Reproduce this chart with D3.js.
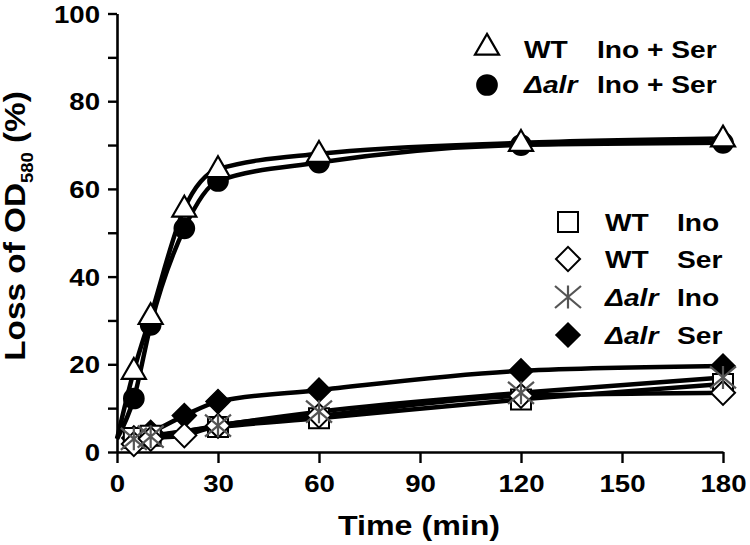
<!DOCTYPE html>
<html><head><meta charset="utf-8">
<script src="https://cdn.jsdelivr.net/npm/d3@7"></script>
<style>
html,body{margin:0;padding:0;background:#fff;}
text{font-family:"Liberation Sans",Arial,Helvetica,sans-serif;font-weight:bold;fill:#000;}
</style></head>
<body>
<svg id="chart" width="750" height="545"></svg>
<script>
// ---- data ----
const timesTop = [0, 5, 10, 20, 30, 60, 120, 180];
const wtInoSer = [3, 18.5, 31, 55.5, 64.5, 68, 70.5, 71.5];
const alrInoSer = [3, 12.2, 29, 51, 61.8, 66, 70, 70.5];

const timesIno = [5, 10, 30, 60, 120, 180];
const wtIno = [3.2, 3.7, 5.7, 7.7, 12, 15.5];
const alrIno = [3, 3.5, 6, 9.2, 13.5, 17];

const timesSer = [5, 10, 20, 30, 60, 120, 180];
const wtSer = [1.8, 3, 3.8, 6, 8.3, 12.8, 13.5];
const alrSer = [3.2, 4.5, 8.3, 11.5, 14.1, 18.5, 19.6];

const xTicks = [0, 30, 60, 90, 120, 150, 180];
const yTicks = [0, 10, 20, 30, 40, 50, 60, 70, 80, 90, 100];

const S = 1.15; // horizontal stretch of the lettering

const svg = d3.select("#chart");
const x = d3.scaleLinear().domain([0, 180]).range([117, 723]);
const y = d3.scaleLinear().domain([0, 100]).range([452, 13.5]);

// ---- axes ----
const xAxis = svg.append("g").attr("transform", "translate(0,452)")
  .call(d3.axisBottom(x).tickValues(xTicks).tickSize(11).tickSizeOuter(0));
const yAxis = svg.append("g").attr("transform", "translate(117,0)")
  .call(d3.axisLeft(y).tickValues(yTicks).tickSize(9).tickSizeOuter(0)
    .tickFormat(d => d % 20 === 0 ? d : ""));
[xAxis, yAxis].forEach(g => {
  g.select(".domain").attr("stroke", "#000").attr("stroke-width", 2.6);
  g.selectAll(".tick line").attr("stroke", "#000").attr("stroke-width", 2.4);
  g.selectAll(".tick text").attr("font-size", 24).attr("font-weight", "bold")
    .attr("font-family", '"Liberation Sans",Arial,sans-serif').attr("fill", "#000");
});
xAxis.selectAll(".tick text").attr("dy", 0).attr("y", 40).attr("transform", `scale(${S},1)`);
yAxis.selectAll(".tick text").attr("x", -17 / S).attr("dy", "0.36em")
  .attr("transform", `scale(${S},1)`);

// ---- axis titles ----
svg.append("text").attr("text-anchor", "middle").attr("font-size", 28)
  .attr("transform", `translate(419,535) scale(${S},1)`).text("Time (min)");
const yt = svg.append("text").attr("text-anchor", "middle").attr("font-size", 29)
  .attr("transform", `translate(25,226) rotate(-90) scale(${S},1)`);
yt.append("tspan").text("Loss of OD");
yt.append("tspan").attr("font-size", 16).attr("dy", 8).text("580");
yt.append("tspan").attr("dy", -8).text(" (%)");

// ---- lines ----
const line = d3.line().x(d => x(d[0])).y(d => y(d[1])).curve(d3.curveMonotoneX);
const zip = (t, v) => t.map((d, i) => [d, v[i]]);
const seriesData = [
  zip(timesIno, wtIno), zip(timesSer, wtSer), zip(timesIno, alrIno),
  zip(timesSer, alrSer), zip(timesTop, alrInoSer), zip(timesTop, wtInoSer)
];
svg.append("g").selectAll("path").data(seriesData).join("path")
  .attr("d", line).attr("fill", "none").attr("stroke", "#000")
  .attr("stroke-width", 4.5).attr("stroke-linejoin", "round");

// ---- markers ----
const triPath = d3.symbol(d3.symbolTriangle, 250)();
const circPath = d3.symbol(d3.symbolCircle, 370)();
const sqPath = d3.symbol(d3.symbolSquare, 400)();
const diaPath = d3.symbol(d3.symbolSquare, 290)();
const starPath = "M0,-11.5V11.5M-13,-11L13,11M-13,11L13,-11";

function marker(g, px, py, kind) {
  if (kind === "tri") g.append("path").attr("d", triPath).attr("transform", `translate(${px},${py + 1})`)
    .attr("fill", "#fff").attr("stroke", "#000").attr("stroke-width", 2.2);
  if (kind === "circ") g.append("path").attr("d", circPath).attr("transform", `translate(${px},${py})`)
    .attr("fill", "#000");
  if (kind === "sq") g.append("path").attr("d", sqPath).attr("transform", `translate(${px},${py})`)
    .attr("fill", "#fff").attr("stroke", "#000").attr("stroke-width", 2);
  if (kind === "dia") g.append("path").attr("d", diaPath).attr("transform", `translate(${px},${py}) rotate(45)`)
    .attr("fill", "#fff").attr("stroke", "#000").attr("stroke-width", 2);
  if (kind === "fdia") g.append("path").attr("d", diaPath).attr("transform", `translate(${px},${py}) rotate(45)`)
    .attr("fill", "#000").attr("stroke", "#000").attr("stroke-width", 1.5);
  if (kind === "star") g.append("path").attr("d", starPath).attr("transform", `translate(${px},${py})`)
    .attr("fill", "none").attr("stroke", "#555").attr("stroke-width", 2.2);
}
const mg = svg.append("g");
const markerSets = [
  [timesSer, alrSer, "fdia"], [timesIno, wtIno, "sq"], [timesSer, wtSer, "dia"],
  [timesIno, alrIno, "star"], [timesTop, alrInoSer, "circ"], [timesTop, wtInoSer, "tri"]
];
// the curve origin (t = 0) carries no symbol
markerSets.forEach(([t, v, k]) => t.forEach((d, i) => { if (d > 0) marker(mg, x(d), y(v[i]), k); }));

// ---- legends ----
const lg = svg.append("g");
function legText(px, py, txt, italic) {
  lg.append("text").attr("font-size", 24.5).attr("font-style", italic ? "italic" : "normal")
    .attr("transform", `translate(${px},${py}) scale(${S},1)`).text(txt);
}
const legTop = [["tri", "WT", false, "Ino + Ser"], ["circ", "\u0394alr", true, "Ino + Ser"]];
const legTopY = [46.7, 85];
legTop.forEach((r, i) => {
  marker(lg, 487, legTopY[i], r[0]);
  legText(524, legTopY[i] + (i === 0 ? 11 : 7.5), r[1], r[2]);
  legText(597, legTopY[i] + (i === 0 ? 11 : 7.5), r[3], false);
});
const legBot = [["sq", "WT", false, "Ino"], ["dia", "WT", false, "Ser"],
  ["star", "\u0394alr", true, "Ino"], ["fdia", "\u0394alr", true, "Ser"]];
const legBotY = [222, 259, 297, 335];
legBot.forEach((r, i) => {
  marker(lg, 568, legBotY[i], r[0]);
  legText(605, legBotY[i] + 8.8, r[1], r[2]);
  legText(677, legBotY[i] + 8.8, r[3], false);
});
</script>
</body></html>
